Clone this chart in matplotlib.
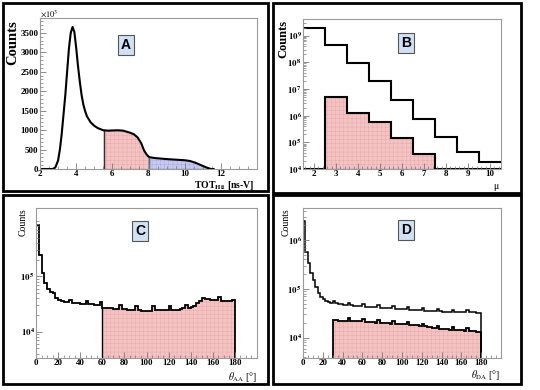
import numpy as np
import matplotlib
matplotlib.use("Agg")
import matplotlib.pyplot as plt
from matplotlib.ticker import MultipleLocator, FixedLocator, FuncFormatter, LogLocator, NullFormatter
from matplotlib.patches import Rectangle

plt.rcParams['mathtext.fontset'] = 'stix'
plt.rcParams['hatch.linewidth'] = 0.35

# ---------------- data ----------------
# Panel A: TOT_Hit distribution (x10^3 counts)
tot_x = [2.0, 2.7, 2.85, 3.0, 3.1, 3.2, 3.3, 3.4, 3.5, 3.6, 3.7, 3.8, 3.9, 4.0, 4.1, 4.2,
         4.3, 4.4, 4.5, 4.6, 4.8, 5.0, 5.2, 5.5, 5.8, 6.0, 6.3, 6.6, 7.0, 7.2, 7.4, 7.6,
         7.75, 7.9, 8.0, 8.1, 8.3, 8.5, 9.0, 9.5, 10.0, 10.3, 10.6, 10.9, 11.2, 11.45, 11.6]
tot_y = [0, 0, 40, 220, 500, 900, 1400, 1900, 2500, 3100, 3500, 3650, 3520, 3120, 2650, 2250,
         1900, 1650, 1480, 1350, 1200, 1110, 1050, 995, 985, 990, 995, 985, 930, 890, 810, 660,
         480, 370, 320, 300, 285, 275, 255, 240, 225, 205, 160, 100, 40, 0, 0]
red_lo, red_hi = 5.52, 7.96
gray_hi = 8.1
blue_hi = 11.45

# Panel B: multiplicity mu
mu_edges = [1.5, 2.5, 3.5, 4.5, 5.5, 6.5, 7.5, 8.5, 9.5, 10.5]
mu_all = [1.9e9, 4.6e8, 9.7e7, 2.0e7, 4.0e6, 7.7e5, 1.6e5, 4.2e4, 1.9e4]
mu_sel = [0, 4.9e6, 1.3e6, 5.6e5, 1.4e5, 3.5e4, 0, 0, 0]

# Panel C: theta_AA, 2.5 deg bins from 0 to 180
c_vals = [850000, 240000, 115000, 76000, 60000, 53000, 50000, 41000, 37500, 35500,
          34700, 33900, 38000, 33100, 32700, 32400, 32000, 31600, 35900, 31600,
          31300, 30900, 30900, 33900, 26900, 26600, 26300, 26300, 26000, 25800,
          30900, 25700, 25400, 25100, 24800, 24500, 29500, 24300, 24000, 24000,
          24000, 24000, 28800, 24300, 24300, 24500, 24500, 24500, 29500, 24500,
          24800, 25100, 25700, 26300, 30900, 26900, 27500, 29500, 33000, 36300,
          39800, 38500, 38500, 38000, 37600, 37200, 42700, 36300, 35900, 35900,
          35900, 37200]
c_cut = 60

# Panel D: theta_DA, 2.5 deg bins from 0 to 180 (log10 of counts)
d_log_all = [6.39, 5.76, 5.52, 5.32, 5.18, 5.04, 4.91, 4.84, 4.79, 4.76,
             4.74, 4.72, 4.75, 4.70, 4.685, 4.68, 4.675, 4.67, 4.72, 4.66,
             4.655, 4.65, 4.645, 4.64, 4.68, 4.632, 4.628, 4.624, 4.62, 4.618,
             4.665, 4.612, 4.608, 4.604, 4.60, 4.598, 4.65, 4.594, 4.59, 4.586,
             4.582, 4.58, 4.62, 4.574, 4.57, 4.566, 4.562, 4.56, 4.60, 4.555,
             4.55, 4.546, 4.542, 4.54, 4.59, 4.538, 4.535, 4.532, 4.53, 4.528,
             4.575, 4.526, 4.524, 4.522, 4.52, 4.52, 4.56, 4.52, 4.518, 4.516,
             4.515, 4.515]
d_log_sel = [4.36, 4.355, 4.35, 4.35, 4.348, 4.345, 4.41, 4.345, 4.342, 4.34,
             4.338, 4.335, 4.38, 4.33, 4.325, 4.32, 4.315, 4.31, 4.36, 4.31,
             4.305, 4.30, 4.295, 4.29, 4.34, 4.285, 4.28, 4.275, 4.272, 4.27,
             4.33, 4.265, 4.26, 4.255, 4.25, 4.245, 4.29, 4.23, 4.22, 4.21,
             4.20, 4.195, 4.24, 4.185, 4.18, 4.175, 4.17, 4.165, 4.22, 4.16,
             4.155, 4.15, 4.148, 4.145, 4.19, 4.14, 4.135, 4.13, 4.125, 4.12]
d_cut = 30

# ---------------- figure ----------------
W, H = 540, 390
fig = plt.figure(figsize=(W / 100, H / 100), dpi=100)

def add_ax(l, t, r, b):
    return fig.add_axes([l / W, 1 - b / H, (r - l) / W, (b - t) / H])

def ftext(x, y, s, **kw):
    fig.text(x / W, 1 - y / H, s, **kw)

SERIF = 'Liberation Serif'
PINK = '#f4c4c4'
PINK_H = '#e9a9a9'
BLUE = '#c6c9f0'
BLUE_H = '#a9ade6'
FRAME = '#9a9a9a'

def style(ax):
    for s in ax.spines.values():
        s.set_color(FRAME)
        s.set_linewidth(0.8)
    ax.tick_params(which='both', direction='in', colors='#777777', labelcolor='black',
                   top=False, right=False, pad=1)
    ax.tick_params(which='major', length=4, width=0.6, labelsize=6.5)
    ax.tick_params(which='minor', length=2, width=0.5)
    for lab in ax.get_xticklabels() + ax.get_yticklabels():
        lab.set_fontfamily(SERIF)
        lab.set_fontweight('bold')

def logfmt(v, pos):
    e = int(round(np.log10(v)))
    return r'$\mathbf{10^{%d}}$' % e

def panel_label(x, y, s):
    ftext(x, y, s, ha='center', va='center', fontsize=10, fontweight='bold',
          family='Liberation Sans',
          bbox=dict(boxstyle='square,pad=0.2', fc='#cfe1f3', ec='#555555', lw=0.8))

# ---- Panel A ----
axA = add_ax(40, 18, 257, 169)
x = np.array(tot_x); y = np.array(tot_y)
xf = np.linspace(2, 11.6, 1500)
yf = np.interp(xf, x, y)
m = (xf >= red_lo) & (xf <= red_hi)
axA.fill_between(xf[m], 0, yf[m], color=PINK, lw=0, hatch='++++', edgecolor=PINK_H)
m = (xf >= red_hi) & (xf <= gray_hi)
axA.fill_between(xf[m], 0, yf[m], color='#666666', lw=0)
m = (xf >= gray_hi) & (xf <= blue_hi)
axA.fill_between(xf[m], 0, yf[m], color=BLUE, lw=0, hatch='++++', edgecolor=BLUE_H)
axA.plot([red_lo, red_lo], [0, np.interp(red_lo, x, y)], color='#333333', lw=1.0)
axA.plot(x, y, color='black', lw=1.5)
axA.set_xlim(2, 14)
axA.set_ylim(0, 3880)
axA.xaxis.set_major_locator(FixedLocator([2, 4, 6, 8, 10, 12]))
axA.xaxis.set_minor_locator(MultipleLocator(0.5))
axA.yaxis.set_major_locator(MultipleLocator(500))
axA.yaxis.set_minor_locator(MultipleLocator(100))
style(axA)
ftext(40, 14, r'$\times10^{3}$', ha='left', va='center', fontsize=6)
ftext(13, 20, 'Counts', rotation=90, ha='center', va='top', fontsize=10.5,
      fontweight='bold', family=SERIF)
ftext(255, 185, r'TOT$_{\mathbf{Hit}}$ [ns-V]', ha='right', va='center', fontsize=7,
      fontweight='bold', family=SERIF)
panel_label(126, 45, 'A')

# ---- Panel B ----
axB = add_ax(303, 19, 501, 169)
ymin_B = 1e4
axB.set_yscale('log')
sel = np.maximum(np.array(mu_sel), ymin_B)
axB.stairs(sel, mu_edges, baseline=ymin_B, fill=True, facecolor=PINK, edgecolor=PINK_H,
           hatch='++++', lw=0)
axB.stairs(sel, mu_edges, baseline=None, color='black', lw=1.5)
axB.stairs(mu_all, mu_edges, baseline=None, color='black', lw=1.5)
axB.set_xlim(1.5, 10.5)
axB.set_ylim(ymin_B, 10 ** 9.62)
axB.xaxis.set_major_locator(MultipleLocator(1))
axB.xaxis.set_minor_locator(MultipleLocator(0.2))
axB.yaxis.set_major_locator(FixedLocator([10.0 ** k for k in range(4, 10)]))
axB.yaxis.set_major_formatter(FuncFormatter(logfmt))
axB.yaxis.set_minor_locator(LogLocator(base=10, subs=np.arange(2, 10)))
axB.yaxis.set_minor_formatter(NullFormatter())
style(axB)
ftext(283, 20, 'Counts', rotation=90, ha='center', va='top', fontsize=9,
      fontweight='bold', family=SERIF)
ftext(499, 186, 'μ', ha='right', va='center', fontsize=7, family=SERIF)
panel_label(406, 43, 'B')

# ---- Panel C ----
axC = add_ax(36, 208, 257, 358)
ymin_C = 10 ** 3.524
axC.set_yscale('log')
c_edges = np.arange(0, 180.01, 2.5)
k = int(c_cut / 2.5)
axC.stairs(c_vals[k:], c_edges[k:], baseline=ymin_C, fill=True, facecolor=PINK,
           edgecolor=PINK_H, hatch='++++', lw=0)
axC.stairs(c_vals, c_edges, baseline=ymin_C, color='black', lw=1.3)
axC.plot([c_cut, c_cut], [ymin_C, c_vals[k]], color='black', lw=1.0)
axC.set_xlim(0, 200)
axC.set_ylim(ymin_C, 10 ** 6.235)
axC.xaxis.set_major_locator(FixedLocator(np.arange(0, 181, 20)))
axC.xaxis.set_minor_locator(MultipleLocator(5))
axC.yaxis.set_major_locator(FixedLocator([1e4, 1e5]))
axC.yaxis.set_major_formatter(FuncFormatter(logfmt))
axC.yaxis.set_minor_locator(LogLocator(base=10, subs=np.arange(1, 10)))
axC.yaxis.set_minor_formatter(NullFormatter())
style(axC)
ftext(23, 208, 'Counts', rotation=90, ha='center', va='top', fontsize=7, family=SERIF)
ftext(257, 377, r'$\theta_{\rm AA}$ [°]', ha='right', va='center', fontsize=7, family=SERIF)
panel_label(140, 231, 'C')

# ---- Panel D ----
axD = add_ax(303, 208, 501, 358)
ymin_D = 10 ** 3.584
axD.set_yscale('log')
d_edges = np.arange(0, 180.01, 2.5)
kd = int(d_cut / 2.5)
d_all = 10 ** np.array(d_log_all)
d_sel = 10 ** np.array(d_log_sel)
axD.stairs(d_sel, d_edges[kd:], baseline=ymin_D, fill=True, facecolor=PINK,
           edgecolor=PINK_H, hatch='++++', lw=0)
axD.stairs(d_sel, d_edges[kd:], baseline=ymin_D, color='black', lw=1.3)
axD.stairs(d_all, d_edges, baseline=ymin_D, color='black', lw=1.1)
axD.set_xlim(0, 200)
axD.set_ylim(ymin_D, 10 ** 6.655)
axD.xaxis.set_major_locator(FixedLocator(np.arange(0, 181, 20)))
axD.xaxis.set_minor_locator(MultipleLocator(5))
axD.yaxis.set_major_locator(FixedLocator([1e4, 1e5, 1e6]))
axD.yaxis.set_major_formatter(FuncFormatter(logfmt))
axD.yaxis.set_minor_locator(LogLocator(base=10, subs=np.arange(2, 10)))
axD.yaxis.set_minor_formatter(NullFormatter())
style(axD)
ftext(286, 208, 'Counts', rotation=90, ha='center', va='top', fontsize=7, family=SERIF)
ftext(500, 375, r'$\theta_{\rm DA}$ [°]', ha='right', va='center', fontsize=7, family=SERIF)
panel_label(406, 230, 'D')

# ---- panel borders ----
for (l, t, r, b) in [(3, 3, 268, 191), (273, 3, 521, 193), (3, 195, 268, 384), (273, 195, 521, 384)]:
    fig.patches.append(Rectangle((l / W, 1 - b / H), (r - l) / W, (b - t) / H,
                                 transform=fig.transFigure, fill=False, ec='black', lw=2.0))

fig.savefig('out.png', dpi=100)
